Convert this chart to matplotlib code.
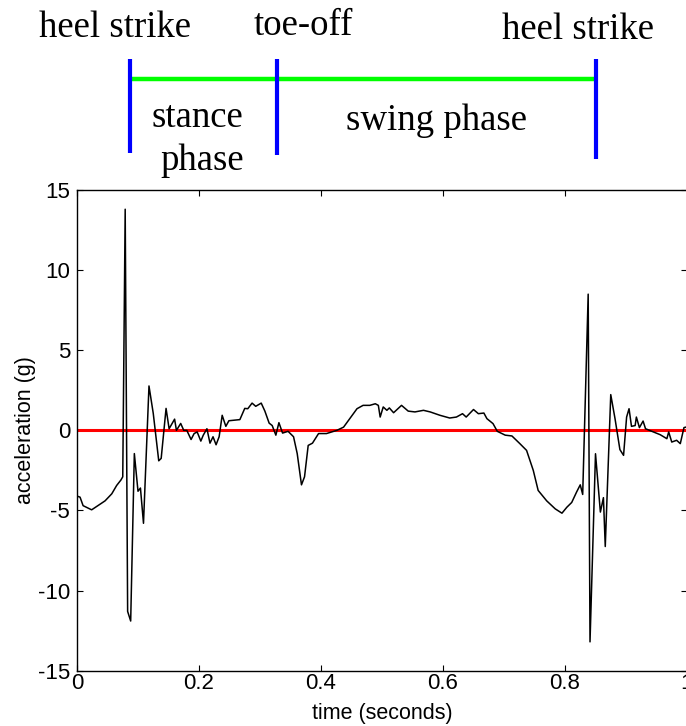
import matplotlib
matplotlib.use("Agg")
import matplotlib.pyplot as plt

plt.rcParams["axes.unicode_minus"] = False

# signal: time (s) and acceleration (g)
t = [0.000, 0.005, 0.010, 0.024, 0.038, 0.046, 0.057, 0.065, 0.072, 0.075,
     0.079, 0.083, 0.088, 0.094, 0.100, 0.104, 0.109, 0.118, 0.125, 0.134,
     0.138, 0.146, 0.151, 0.160, 0.163, 0.170, 0.175, 0.180, 0.187, 0.192,
     0.197, 0.203, 0.207, 0.213, 0.218, 0.223, 0.228, 0.233, 0.238, 0.244,
     0.249, 0.267, 0.275, 0.280, 0.287, 0.293, 0.302, 0.308, 0.315, 0.320,
     0.326, 0.331, 0.337, 0.346, 0.355, 0.361, 0.368, 0.373, 0.379, 0.386,
     0.396, 0.409, 0.426, 0.437, 0.445, 0.459, 0.469, 0.480, 0.489, 0.494,
     0.497, 0.502, 0.508, 0.512, 0.519, 0.532, 0.543, 0.554, 0.568, 0.579,
     0.595, 0.611, 0.622, 0.632, 0.638, 0.650, 0.658, 0.667, 0.672, 0.682,
     0.689, 0.702, 0.713, 0.726, 0.737, 0.748, 0.756, 0.770, 0.784, 0.795,
     0.803, 0.811, 0.819, 0.825, 0.829, 0.838, 0.841, 0.850, 0.858, 0.863,
     0.866, 0.875, 0.882, 0.890, 0.896, 0.901, 0.905, 0.909, 0.915, 0.917,
     0.922, 0.928, 0.932, 0.945, 0.956, 0.967, 0.970, 0.975, 0.983, 0.989,
     0.995, 0.998]
acc = [-4.10, -4.17, -4.70, -4.96, -4.60, -4.40, -3.96, -3.44, -3.10, -2.90,
       13.80, -11.30, -11.90, -1.45, -3.80, -3.60, -5.80, 2.77, 1.06, -1.90,
       -1.75, 1.37, 0.10, 0.70, 0.00, 0.43, 0.00, 0.00, -0.57, -0.20,
       -0.10, -0.67, -0.30, 0.10, -0.80, -0.40, -0.90, -0.40, 0.94, 0.25,
       0.60, 0.67, 1.37, 1.35, 1.70, 1.50, 1.70, 1.20, 0.45, 0.30,
       -0.30, 0.48, -0.17, -0.06, -0.40, -1.45, -3.40, -2.90, -0.94, -0.80,
       -0.20, -0.20, 0.00, 0.20, 0.62, 1.35, 1.56, 1.56, 1.66, 1.56,
       0.83, 1.46, 1.25, 1.40, 1.10, 1.56, 1.20, 1.15, 1.25, 1.15,
       0.94, 0.77, 0.83, 1.04, 0.83, 1.30, 1.04, 1.08, 0.73, 0.42,
       -0.06, -0.30, -0.35, -0.83, -1.25, -2.50, -3.75, -4.40, -4.90, -5.17,
       -4.80, -4.50, -3.85, -3.40, -4.00, 8.50, -13.20, -1.46, -5.10, -4.20,
       -7.25, 2.23, 0.73, -1.20, -1.56, 0.83, 1.35, 0.25, 0.30, 0.83,
       0.17, 0.58, 0.10, -0.10, -0.27, -0.52, -0.10, -0.73, -0.62, -0.83,
       0.17, 0.20]

xticks = [0, 0.2, 0.4, 0.6, 0.8, 1]
xticklabels = ["0", "0.2", "0.4", "0.6", "0.8", "1"]
yticks = [-15, -10, -5, 0, 5, 10, 15]

W, H = 686, 726
fig = plt.figure(figsize=(W / 100, H / 100), dpi=100)

def fx(px):
    return px / W

def fy(py):
    return 1 - py / H

# main axes
ax = fig.add_axes([fx(77), fy(670.7), 610 / W, (670.7 - 190) / H])
ax.plot([0, 1], [0, 0], color="#ff0000", lw=2.2, zorder=2)
ax.plot(t, acc, color="black", lw=1.1, zorder=3)
ax.set_xlim(0, 1)
ax.set_ylim(-15, 15)
ax.set_xticks(xticks)
ax.set_xticklabels(xticklabels)
ax.set_yticks(yticks)
sans = ["Liberation Sans", "DejaVu Sans"]
ax.tick_params(direction="in", length=4, width=0.8, top=True, right=True,
               labelsize=16)
ax.tick_params(axis="x", pad=2)
ax.tick_params(axis="y", pad=5)
for lab in ax.get_xticklabels() + ax.get_yticklabels():
    lab.set_family(sans)
for s in ax.spines.values():
    s.set_linewidth(1.0)
ax.set_xlabel("time (seconds)", fontsize=15.5, family=sans, labelpad=6)
ax.set_ylabel("acceleration (g)", fontsize=15.5, family=sans, labelpad=1)

# top annotation (figure-level overlay)
ov = fig.add_axes([0, 0, 1, 1], facecolor="none")
ov.set_xlim(0, W)
ov.set_ylim(H, 0)
ov.axis("off")
ov.plot([131, 594], [79, 79], color="#00ff00", lw=3.2, solid_capstyle="butt")
for x0, y1 in [(129.5, 153), (277.3, 155), (595.8, 159)]:
    ov.plot([x0, x0], [59, y1], color="#0000ff", lw=3.0, solid_capstyle="butt")

serif = ["Liberation Serif", "DejaVu Serif"]
fs = 26.5
ov.text(39, 37, "heel strike", fontsize=fs, family=serif, ha="left", va="baseline")
ov.text(254, 35, "toe-off", fontsize=fs, family=serif, ha="left", va="baseline")
ov.text(502, 39, "heel strike", fontsize=fs, family=serif, ha="left", va="baseline")
ov.text(197, 127, "stance", fontsize=fs, family=serif, ha="center", va="baseline")
ov.text(202, 170, "phase", fontsize=fs, family=serif, ha="center", va="baseline")
ov.text(436, 130, "swing phase", fontsize=fs, family=serif, ha="center", va="baseline")

fig.savefig("out.png", dpi=100)
